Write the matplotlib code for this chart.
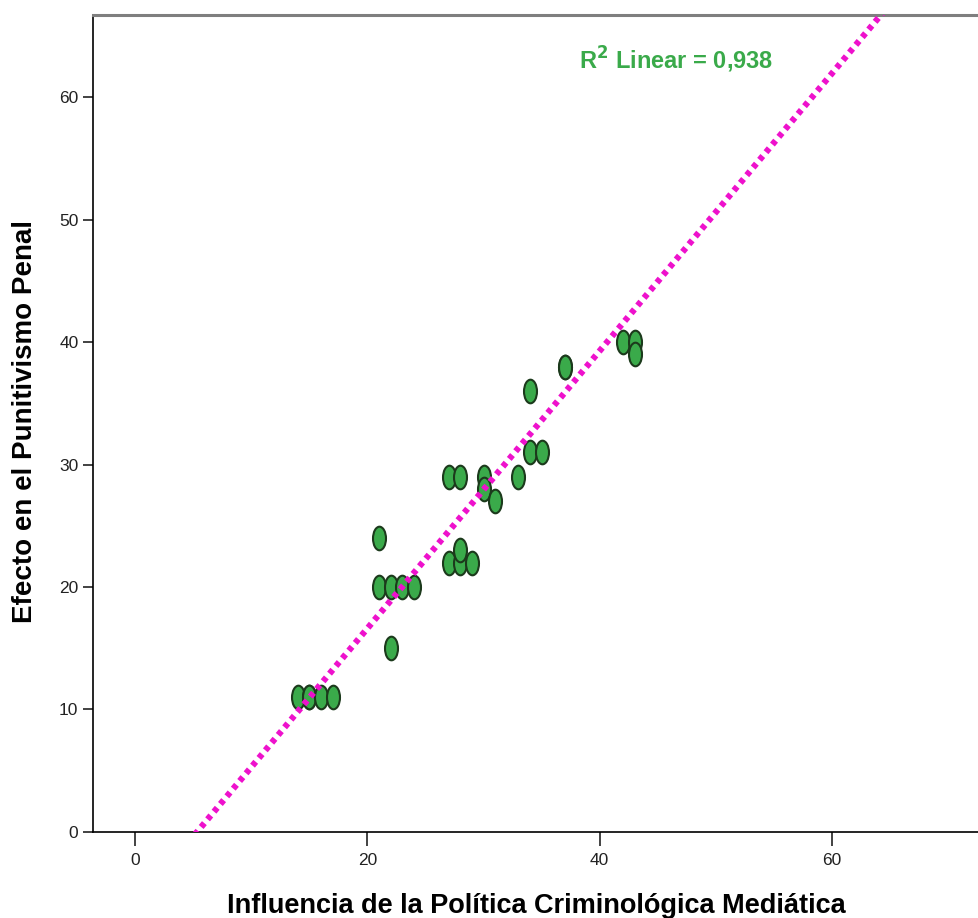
import numpy as np
import matplotlib
matplotlib.use('Agg')
import matplotlib.pyplot as plt
from matplotlib.path import Path
from matplotlib.transforms import Affine2D
from matplotlib import font_manager

# Datos
influencia = [14, 15, 15, 16, 17, 21, 21, 22, 23, 24, 22, 27, 28, 28, 29,
              27, 28, 30, 30, 31, 33, 34, 35, 34, 37, 37, 42, 43, 43]
punitivismo = [11, 11, 11, 11, 11, 24, 20, 20, 20, 20, 15, 22, 22, 23, 22,
               29, 29, 29, 28, 27, 29, 31, 31, 36, 38, 38, 40, 40, 39]
# recta de ajuste (R2 lineal = 0,938)
pendiente = 1.133
intercepto = -6.04
x_ticks = [0, 20, 40, 60]
y_ticks = [0, 10, 20, 30, 40, 50, 60]
r2_texto = 'R$^{\\mathbf{2}}$ Linear = 0,938'

plt.rcParams['font.family'] = ['Liberation Sans', 'DejaVu Sans']
nombres = {f.name for f in font_manager.fontManager.ttflist}
narrow = 'Liberation Sans Narrow' if 'Liberation Sans Narrow' in nombres else 'Liberation Sans'

fig = plt.figure(figsize=(9.79, 9.18), dpi=100)
ax = fig.add_axes([0.095, 0.0937, 0.905, 0.89])

# marcador eliptico (mas alto que ancho)
elipse = Path.unit_circle().transformed(Affine2D().scale(0.55, 1.0))

x = np.array(influencia, dtype=float)
y = np.array(punitivismo, dtype=float)

xs = np.array([-5, 80])
ax.plot(xs, pendiente * xs + intercepto, color='#ee11cc', linewidth=4.5,
        linestyle=(0, (0.8, 0.8)), zorder=3)

ax.plot(x, y, linestyle='none', marker=elipse, markersize=17,
        markerfacecolor='#3aaa4a', markeredgecolor='#1c3a1c',
        markeredgewidth=1.5, zorder=2)

ax.set_xlim(-3.62, 72.65)
ax.set_ylim(0, 66.7)
ax.set_xticks(x_ticks)
ax.set_yticks(y_ticks)

ax.spines['right'].set_visible(False)
ax.spines['top'].set_color('#7f7f7f')
ax.spines['top'].set_linewidth(2.2)
ax.spines['left'].set_linewidth(1.2)
ax.spines['bottom'].set_linewidth(1.2)
ax.tick_params(axis='y', direction='out', length=7, width=1.2,
               labelsize=12.5, colors='#222222')
ax.tick_params(axis='x', direction='out', length=10, width=1.2,
               labelsize=12.5, colors='#222222', pad=5)
for lab in ax.get_xticklabels() + ax.get_yticklabels():
    lab.set_family(narrow)

ax.set_xlabel('Influencia de la Política Criminológica Mediática',
              fontsize=19.5, fontweight='bold', labelpad=18)
ax.set_ylabel('Efecto en el Punitivismo Penal',
              fontsize=20, fontweight='bold')
ax.yaxis.set_label_coords(-0.062, 0.503)

ax.text(46.6, 63.0, r2_texto, color='#3aaa4a', fontsize=17,
        fontweight='bold', ha='center', va='center', family=narrow)

plt.savefig('out.png', dpi=100)
